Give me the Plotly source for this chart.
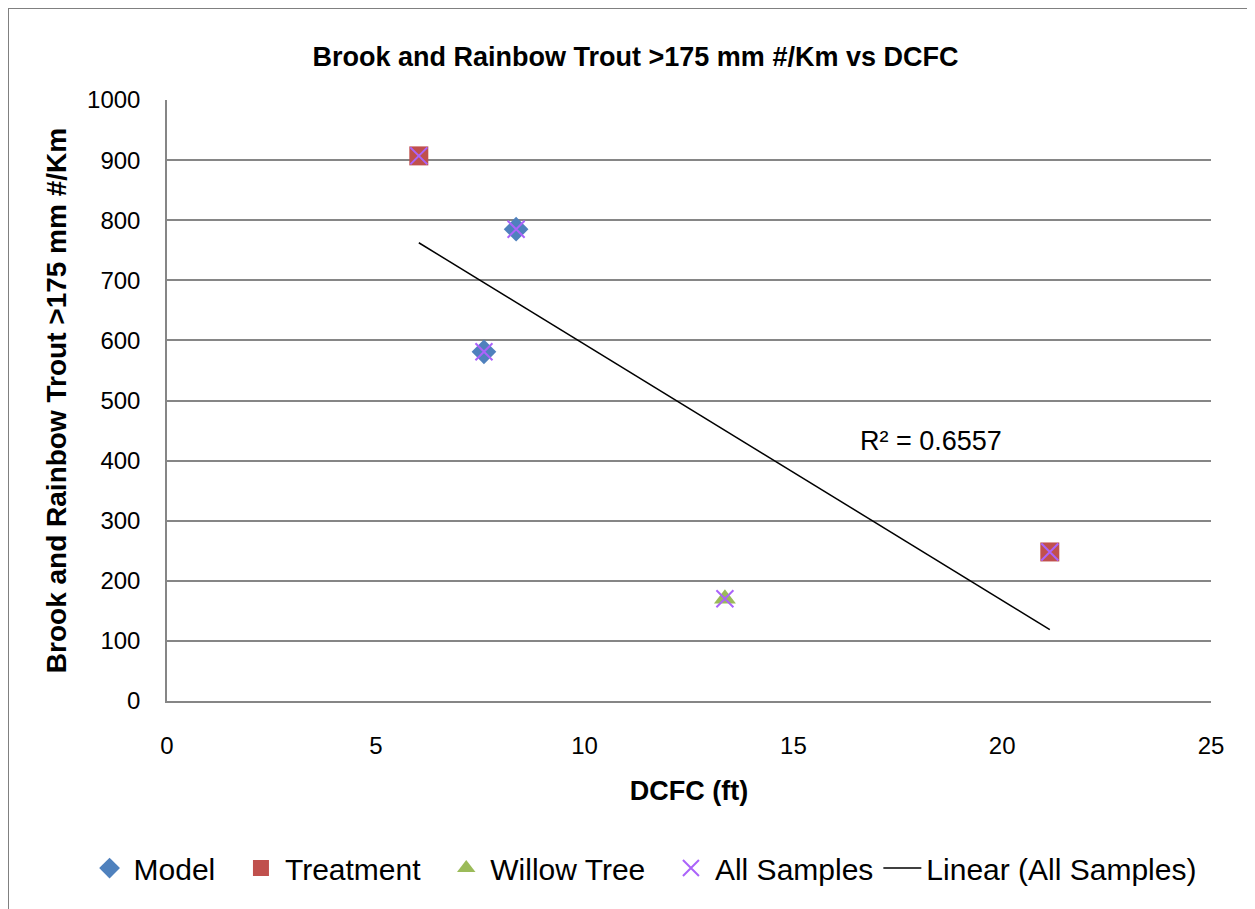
import numpy as np
import plotly.graph_objects as go

model_x = [7.59, 8.36]
model_y = [581, 785]
treat_x = [6.03, 21.14]
treat_y = [907, 248]
willow_x = [13.36]
willow_y = [170]
all_x = model_x + treat_x + willow_x
all_y = model_y + treat_y + willow_y
r2_text = "R² = 0.6557"

slope, intercept = np.polyfit(all_x, all_y, 1)
tx = [min(all_x), max(all_x)]
ty = [slope * v + intercept for v in tx]

font = "Liberation Sans, Arial"
pad = "\u00a0\u00a0"
fig = go.Figure()
fig.add_trace(go.Scatter(x=model_x, y=model_y, mode="markers", name="Model" + pad,
                         marker=dict(symbol="diamond", size=19, color="#4F81BD")))
fig.add_trace(go.Scatter(x=treat_x, y=treat_y, mode="markers", name="Treatment" + pad,
                         marker=dict(symbol="square", size=19, color="#C0504D")))
fig.add_trace(go.Scatter(x=willow_x, y=willow_y, mode="markers", name="Willow Tree" + pad,
                         marker=dict(symbol="triangle-up", size=19, color="#9BBB59")))
fig.add_trace(go.Scatter(x=all_x, y=all_y, mode="markers", name="All Samples",
                         marker=dict(symbol="x-thin-open", size=17,
                                     line=dict(color="#7B5FA0", width=2))))
fig.add_trace(go.Scatter(x=tx, y=ty, mode="lines", name="Linear (All Samples)",
                         line=dict(color="black", width=1.5)))

fig.add_annotation(x=18.3, y=433, text=r2_text, showarrow=False,
                   font=dict(size=27, color="black", family=font))

fig.add_shape(type="line", xref="paper", yref="paper", x0=-0.1523, x1=-0.1523,
              y0=-0.4, y1=1.153, line=dict(color="#808080", width=2))
fig.add_shape(type="line", xref="paper", yref="paper", x0=-0.1523, x1=1.1,
              y0=1.153, y1=1.153, line=dict(color="#808080", width=2))

fig.update_layout(
    width=1255, height=909,
    margin=dict(l=159, r=52, t=92, b=216),
    paper_bgcolor="white", plot_bgcolor="white",
    title=dict(text="<b>Brook and Rainbow Trout >175 mm #/Km vs DCFC</b>",
               x=0.5, xref="container", xanchor="center", y=0.947, yanchor="middle",
               font=dict(size=27, color="black", family=font)),
    xaxis=dict(range=[0, 25], dtick=5, showgrid=False, zeroline=False,
               showline=True, linecolor="#868686", linewidth=1.5,
               ticks="", ticklabelstandoff=22,
               tickfont=dict(size=24, color="black", family=font),
               title=dict(text="<b>DCFC (ft)</b>", standoff=24,
                          font=dict(size=27, color="black", family=font))),
    yaxis=dict(range=[0, 1000], dtick=100, showgrid=True, gridcolor="#868686",
               gridwidth=1.5, zeroline=False, showline=True, linecolor="#868686",
               linewidth=1.5, ticks="", ticklabelstandoff=20,
               tickfont=dict(size=24, color="black", family=font),
               title=dict(text="<b>Brook and Rainbow Trout >175 mm #/Km</b>", standoff=12,
                          font=dict(size=28, color="black", family=font))),
    legend=dict(orientation="h", x=-0.078, xanchor="left", y=-0.278, yanchor="middle",
                font=dict(size=30, color="black", family=font), itemwidth=38),
    showlegend=True,
)

fig.write_html("out.html")
